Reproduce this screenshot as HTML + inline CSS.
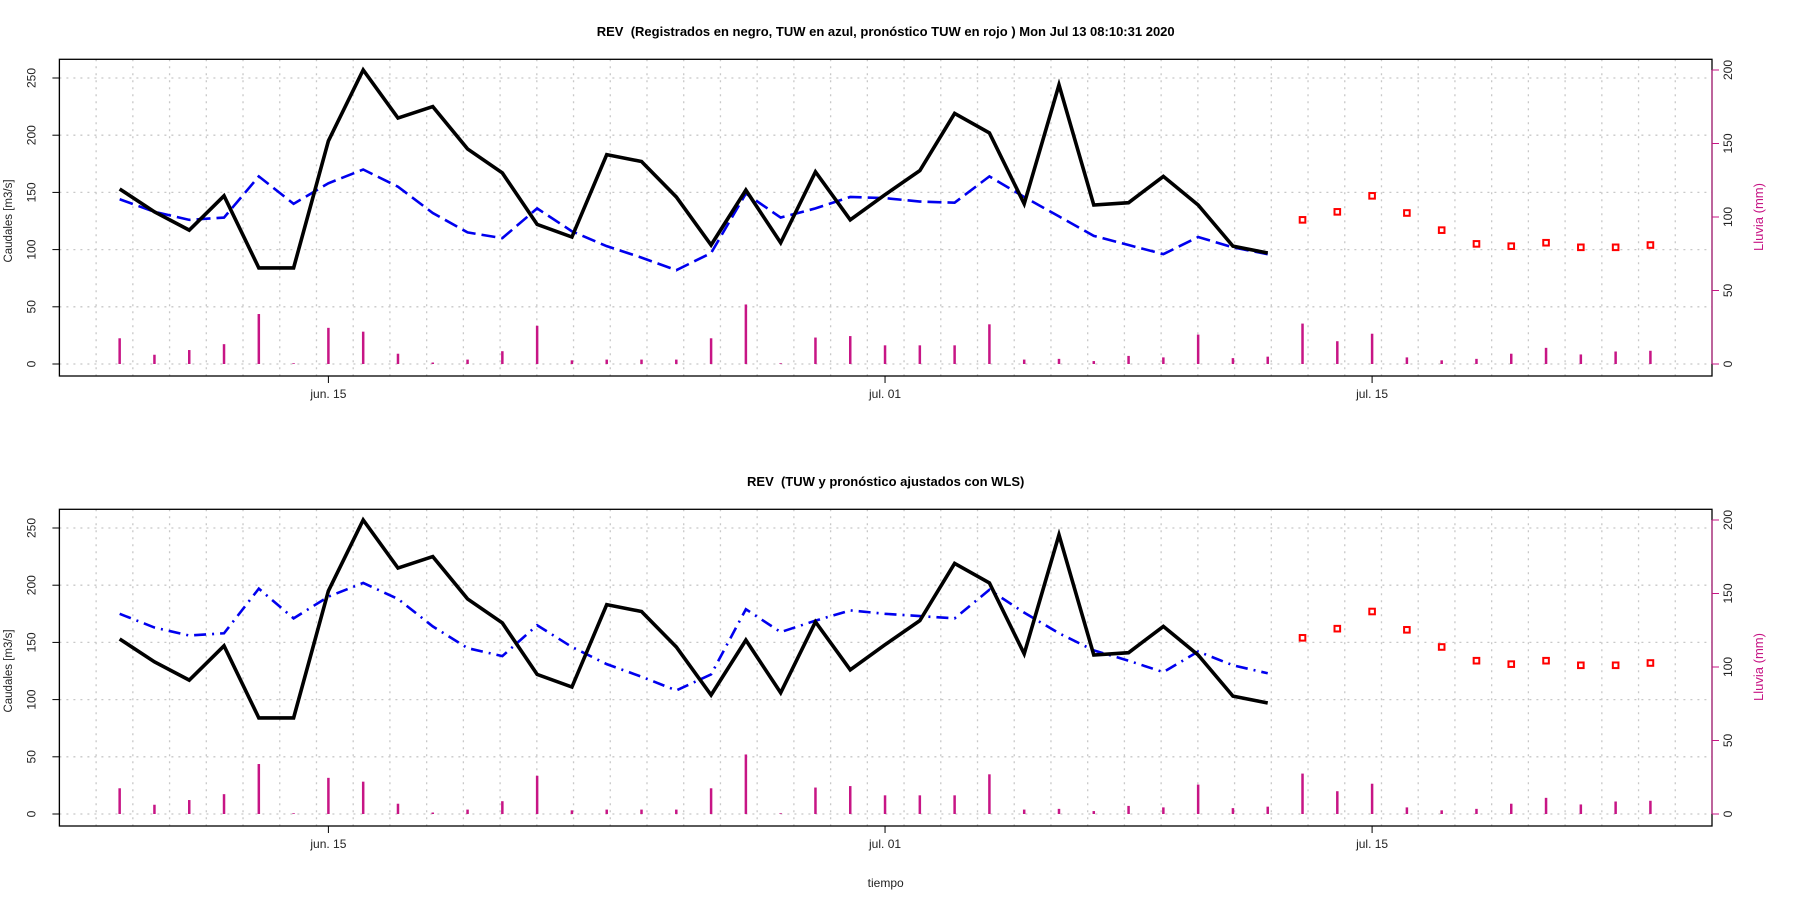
<!DOCTYPE html>
<html><head><meta charset="utf-8"><style>
html,body{margin:0;padding:0;background:#fff;}
svg{display:block;font-family:"Liberation Sans",Arial,sans-serif;}
text{white-space:pre;}
</style></head><body>
<svg id="chart" width="1800" height="900" viewBox="0 0 1800 900" xmlns="http://www.w3.org/2000/svg"></svg>
<script>
// day offsets relative to jun. 15
const obsDays = [-6,-5,-4,-3,-2,-1,0,1,2,3,4,5,6,7,8,9,10,11,12,13,14,15,16,17,18,19,20,21,22,23,24,25,26,27];
const fcDays = [28,29,30,31,32,33,34,35,36,37,38];
const rainDays = [-6,-5,-4,-3,-2,-1,0,1,2,3,4,5,6,7,8,9,10,11,12,13,14,15,16,17,18,19,20,21,22,23,24,25,26,27,28,29,30,31,32,33,34,35,36,37,38];
const observed = [153,133,117,147,84,84,195,257,215,225,188,167,122,111,183,177,146,104,152,106,168,126,148,169,219,202,140,244,139,141,164,139,103,97];
const tuwTop = [144,133,126,128,164,140,158,170,155,132,115,110,136,116,103,93,82,97,149,128,136,146,145,142,141,164,146,129,112,104,96,111,102,96];
const fcTop = [126,133,147,132,117,105,103,106,102,102,104];
const tuwBottom = [175,163,156,158,197,171,190,202,188,164,145,138,165,146,131,120,108,122,179,159,169,178,175,173,171,196,176,158,143,134,124,142,130,123];
const fcBottom = [154,162,177,161,146,134,131,134,130,130,132];
const rain = [17.5,6.3,9.5,13.5,34,0.5,24.6,22,7,1,3,8.7,26,2.5,3,3,3,17.5,40.5,0.5,18,19,12.7,12.7,12.7,27,3,3.5,2,5.5,4.5,20,4,5,27.5,15.5,20.6,4.5,2.5,3.5,7,11,6.5,8.5,9];
const leftTicks = [0,50,100,150,200,250];
const rightTicks = [0,50,100,150,200];
const xTickDays = [0,16,30];
const xTickLabels = ["jun. 15","jul. 01","jul. 15"];
const titles = ["REV  (Registrados en negro, TUW en azul, pronóstico TUW en rojo ) Mon Jul 13 08:10:31 2020","REV  (TUW y pronóstico ajustados con WLS)"];

const NS="http://www.w3.org/2000/svg";
const svg=document.getElementById('chart');
function mk(tag,attrs,parent){const e=document.createElementNS(NS,tag);for(const k in attrs)e.setAttribute(k,attrs[k]);(parent||svg).appendChild(e);return e;}
const PL=59.4, PR=1712, X0=328.4, DX=34.79;
const xs=d=>X0+DX*d;
const PURPLE="#C71585";

function panel(p){
  const off=p*450;
  const PT=59.3+off, PB=376+off;
  const yL=v=>364+off-v*1.144;
  const yR=v=>364+off-v*1.47;
  const g=mk('g',{});
  
  
  const t=mk('text',{x:(PL+PR)/2,y:36+off,'text-anchor':'middle','font-size':13,'font-weight':'bold'},g);
  t.textContent=titles[p];
  
  
  const gg=mk('g',{stroke:'#c8c8c8','stroke-width':1.3,'stroke-dasharray':'2,5'},g);
  
  
  for(let k=1;k<45;k++){const x=PL+k*(PR-PL)/45;mk('line',{x1:x,x2:x,y1:PT,y2:PB},gg);}
  leftTicks.forEach(v=>mk('line',{x1:PL,x2:PR,y1:yL(v),y2:yL(v)},gg));
  const rg=mk('g',{stroke:PURPLE,'stroke-width':2.5},g);
  
  
  rain.forEach((v,i)=>{const b=mk('line',{x1:xs(rainDays[i]),x2:xs(rainDays[i]),y1:yR(0),y2:yR(v)},rg);
    
    });
  const blue=p===0?tuwTop:tuwBottom;
  const bl=mk('polyline',{points:blue.map((v,i)=>xs(obsDays[i])+','+yL(v)).join(' '),fill:'none',stroke:'#0000ee','stroke-width':2.6,'stroke-dasharray':p===0?'14,6':'12,6,2,6'},g);
  
  
  const bk=mk('polyline',{points:observed.map((v,i)=>xs(obsDays[i])+','+yL(v)).join(' '),fill:'none',stroke:'#000','stroke-width':3.6},g);
  
  
  const fc=p===0?fcTop:fcBottom;
  fc.forEach((v,i)=>{const r=mk('rect',{x:xs(fcDays[i])-2.8,y:yL(v)-2.8,width:5.6,height:5.6,fill:'none',stroke:'#ff0000','stroke-width':2},g);
    
    });
  const bx=mk('rect',{x:PL,y:PT,width:PR-PL,height:PB-PT,fill:'none',stroke:'#000','stroke-width':1.3},g);
  
  
  const la=mk('g',{},g);
  
  
  mk('line',{x1:PL,x2:PL,y1:yL(0),y2:yL(250),stroke:'#000'},la);
  leftTicks.forEach(v=>{mk('line',{x1:PL-7,x2:PL,y1:yL(v),y2:yL(v),stroke:'#000'},la);
    const tx=mk('text',{x:0,y:0,'font-size':12,'text-anchor':'middle',fill:'#222',transform:`translate(${PL-24},${yL(v)}) rotate(-90)`},la);tx.textContent=v;});
  const lt=mk('text',{x:0,y:0,'font-size':11.5,'text-anchor':'middle',fill:'#222',transform:`translate(12,${yL(125)}) rotate(-90)`},g);
  lt.textContent='Caudales [m3/s]';
  
  
  const ra=mk('g',{},g);
  
  
  mk('line',{x1:PR,x2:PR,y1:yR(0),y2:yR(200),stroke:PURPLE},ra);
  rightTicks.forEach(v=>{mk('line',{x1:PR,x2:PR+7,y1:yR(v),y2:yR(v),stroke:PURPLE},ra);
    const tx=mk('text',{x:0,y:0,'font-size':12,'text-anchor':'middle',fill:'#222',transform:`translate(${PR+20},${yR(v)}) rotate(-90)`},ra);tx.textContent=v;});
  const rt=mk('text',{x:0,y:0,'font-size':13,'text-anchor':'middle',fill:PURPLE,transform:`translate(${PR+51},${yR(100)}) rotate(-90)`},g);
  rt.textContent='Lluvia (mm)';
  
  
  const xa=mk('g',{},g);
  
  
  xTickDays.forEach((d,i)=>{mk('line',{x1:xs(d),x2:xs(d),y1:PB,y2:PB+7,stroke:'#000'},xa);
    const tx=mk('text',{x:xs(d),y:PB+22,'font-size':12,'text-anchor':'middle',fill:'#222'},xa);tx.textContent=xTickLabels[i];});
}
panel(0);panel(1);
const xt=mk('text',{x:(PL+PR)/2,y:887,'font-size':12,'text-anchor':'middle',fill:'#222'});
xt.textContent='tiempo';


</script>
</body></html>
